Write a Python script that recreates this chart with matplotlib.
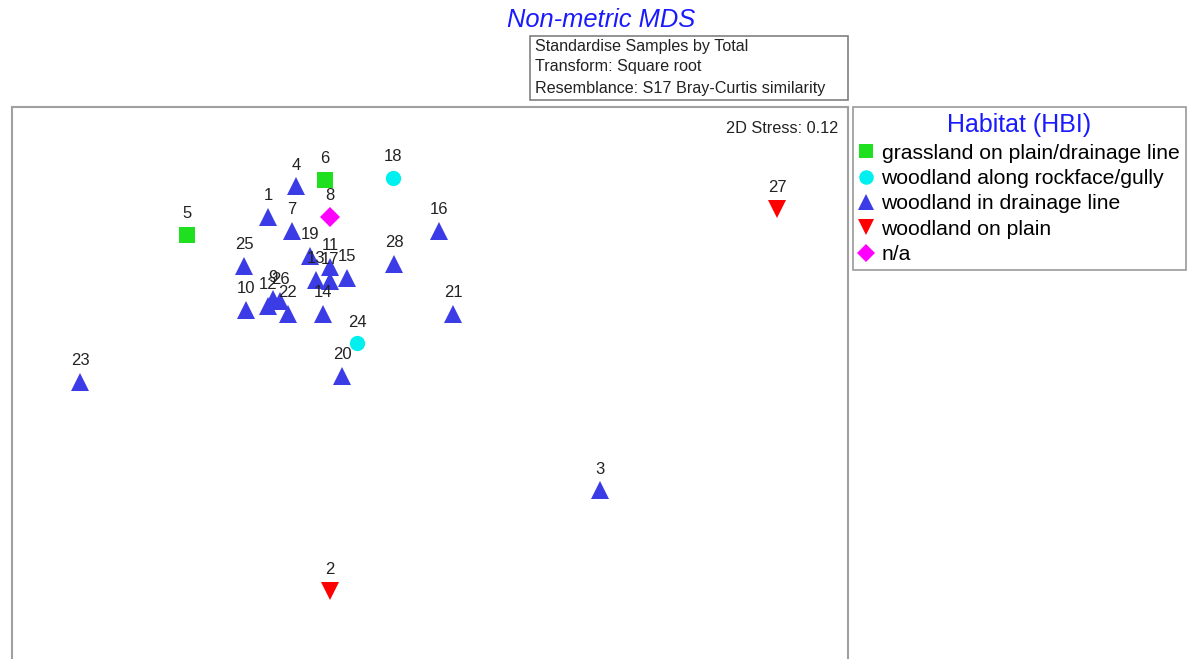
import matplotlib
matplotlib.use("Agg")
import matplotlib.pyplot as plt
from matplotlib.lines import Line2D
from matplotlib.patches import Rectangle

plt.rcParams['font.family'] = ['Liberation Sans', 'DejaVu Sans']

# Sample labels, MDS coordinates and habitat group
samples = ['1', '2', '3', '4', '5', '6', '7', '8', '9', '10', '11', '12', '13', '14',
           '15', '16', '17', '18', '19', '20', '21', '22', '23', '24', '25', '26', '27', '28']
mds1 = [-1.62, -1.00, 1.70, -1.34, -2.43, -1.05, -1.38, -1.00, -1.57, -1.84, -1.00, -1.62,
        -1.14, -1.07, -0.83, 0.09, -1.00, -0.37, -1.20, -0.88, 0.23, -1.42, -3.50, -0.73,
        -1.86, -1.50, 3.47, -0.36]
mds2 = [1.62, -2.14, -1.13, 1.93, 1.44, 2.00, 1.48, 1.62, 0.80, 0.69, 1.12, 0.73,
        0.99, 0.65, 1.01, 1.48, 0.98, 2.02, 1.23, 0.02, 0.65, 0.65, -0.04, 0.35,
        1.13, 0.78, 1.70, 1.15]
habitat = ['W-drain', 'W-plain', 'W-drain', 'W-drain', 'Grass', 'Grass', 'W-drain', 'NA',
           'W-drain', 'W-drain', 'W-drain', 'W-drain', 'W-drain', 'W-drain', 'W-drain',
           'W-drain', 'W-drain', 'W-rock', 'W-drain', 'W-drain', 'W-drain', 'W-drain',
           'W-drain', 'W-rock', 'W-drain', 'W-drain', 'W-plain', 'W-drain']

groups = ['Grass', 'W-rock', 'W-drain', 'W-plain', 'NA']
group_names = ['grassland on plain/drainage line', 'woodland along rockface/gully',
               'woodland in drainage line', 'woodland on plain', 'n/a']
group_markers = ['s', 'o', '^', 'v', 'D']
group_colors = ['#1ee01e', '#00f0f0', '#3c3ce6', '#ff0000', '#ff00ff']
group_sizes = [11, 11, 12.5, 12.5, 10]

subtitle_lines = ['Standardise Samples by Total', 'Transform: Square root',
                  'Resemblance: S17 Bray-Curtis similarity']

fig = plt.figure(figsize=(11.9, 6.59), dpi=100)
ax = fig.add_axes([12/1190, -0.02, (848-12)/1190, 1 - 107/659 + 0.02])
ax.set_xlim(-4.18, 4.18)
ax.set_ylim(-2.96, 2.73)
for s in ax.spines.values():
    s.set_color('#a0a0a0')
    s.set_linewidth(1.5)
ax.set_xticks([])
ax.set_yticks([])

for g, m, c, ms in zip(groups, group_markers, group_colors, group_sizes):
    xs = [x for x, h in zip(mds1, habitat) if h == g]
    ys = [y for y, h in zip(mds2, habitat) if h == g]
    ax.plot(xs, ys, linestyle='none', marker=m, color=c, markersize=ms,
            markeredgewidth=0)

for lab, x, y in zip(samples, mds1, mds2):
    ax.annotate(lab, (x, y), xytext=(0, 10), textcoords='offset points',
                ha='center', va='bottom', fontsize=12, color='#222222')

ax.text(0.988, 0.975, '2D Stress: 0.12', transform=ax.transAxes, ha='right', va='top',
        fontsize=11.7, color='#222222')

fig.text(601/1190, 1 - 20/659, 'Non-metric MDS', ha='center', va='center',
         fontsize=18.4, style='italic', color='#1a1aff')

fig.patches.append(Rectangle((530/1190, 1 - 100/659), (848-530)/1190, (100-36)/659,
                             transform=fig.transFigure, fill=False,
                             edgecolor='#808080', linewidth=1.2))
for i, line in enumerate(subtitle_lines):
    fig.text(535/1190, 1 - (46 + 21*i)/659, line, ha='left', va='center',
             fontsize=11.6, color='#222222')

handles = [Line2D([], [], linestyle='none', marker=m, color=c, markersize=ms*0.95,
                  markeredgewidth=0)
           for m, c, ms in zip(group_markers, group_colors, group_sizes)]
leg = fig.legend(handles, group_names, loc='upper left',
                 bbox_to_anchor=(853/1190, 1 - 107/659), borderaxespad=0,
                 title='Habitat (HBI)', fontsize=15.2, title_fontsize=18,
                 frameon=True, fancybox=False, edgecolor='#808080',
                 handlelength=0.6, handletextpad=0.45, labelspacing=0.3,
                 borderpad=0.3)
leg.get_title().set_color('#1a1aff')
leg.get_frame().set_linewidth(1.2)

fig.savefig('out.png', dpi=100, facecolor='white')
